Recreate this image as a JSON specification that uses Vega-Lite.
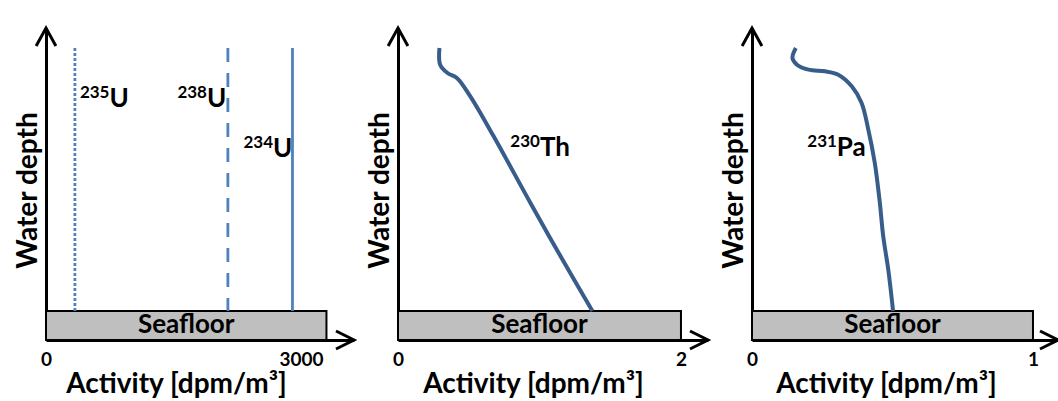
{
  "$schema": "https://vega.github.io/schema/vega-lite/v6.json",
  "padding": {"left": 14, "top": 22, "right": 0, "bottom": 0},
  "background": "white",
  "bounds": "flush",
  "spacing": 44,
  "config": {
    "view": {"stroke": null},
    "font": "Lato",
    "axis": {
      "domainColor": "black", "domainWidth": 3, "ticks": false, "grid": false,
      "labelFont": "Lato", "labelFontSize": 19, "labelFontWeight": "bold", "labelColor": "black",
      "titleFont": "Lato", "titleFontSize": 28, "titleFontWeight": "bold", "titleColor": "black"
    }
  },
  "hconcat": [
    {
      "width": 308, "height": 312,
      "layer": [
        {
          "data": {"values": [{"x0": 0, "x1": 3300, "d0": 4.0, "d1": 4.441}]},
          "mark": {"type": "rect", "fill": "#bfbfbf", "stroke": "black", "strokeWidth": 2},
          "encoding": {
            "x": {"field": "x0", "type": "quantitative", "scale": {"domain": [0, 3624], "nice": false, "zero": false},
                  "axis": {"title": "Activity [dpm/m³]", "values": [0, 3000], "format": "d", "labelPadding": 10, "labelOverlap": false, "labelFlush": false, "titleX": 130, "titleY": 52, "titleAlign": "center", "titleBaseline": "alphabetic"}},
            "x2": {"field": "x1"},
            "y": {"field": "d0", "type": "quantitative", "scale": {"domain": [-0.304, 4.441], "reverse": true, "nice": false, "zero": false},
                  "axis": {"title": "Water depth", "labels": false, "titleX": -18, "titleY": 162, "titleAngle": -90, "titleAlign": "center", "titleBaseline": "middle"}},
            "y2": {"field": "d1"}
          }
        },
        {
          "data": {"values": [{"t": "Seafloor", "x": 1650, "d": 4.22}]},
          "mark": {"type": "text", "fontSize": 26, "fontWeight": "bold", "baseline": "middle", "align": "center", "color": "black"},
          "encoding": {"x": {"field": "x", "type": "quantitative"}, "y": {"field": "d", "type": "quantitative"}, "text": {"field": "t"}}
        },
        {
          "data": {"values": [
            {"iso": "235U", "x": 340, "d0": 0, "d1": 4},
            {"iso": "238U", "x": 2140, "d0": 0, "d1": 4},
            {"iso": "234U", "x": 2900, "d0": 0, "d1": 4}
          ]},
          "mark": {"type": "rule", "color": "#4F81BD", "strokeWidth": 2.8},
          "encoding": {
            "x": {"field": "x", "type": "quantitative"},
            "y": {"field": "d0", "type": "quantitative"},
            "y2": {"field": "d1"},
            "strokeDash": {"field": "iso", "type": "nominal", "scale": {"domain": ["235U", "238U", "234U"], "range": [[3, 2], [14, 11], [1, 0]]}, "legend": null}
          }
        },
        {
          "data": {"values": [
            {"sup": "235", "el": "U", "x": 747, "d": 0.897},
            {"sup": "238", "el": "U", "x": 1894, "d": 0.897},
            {"sup": "234", "el": "U", "x": 2671, "d": 1.658}
          ]},
          "layer": [
            {"mark": {"type": "text", "fontSize": 17, "fontWeight": "bold", "align": "right", "baseline": "alphabetic", "dy": -9, "color": "black"},
             "encoding": {"x": {"field": "x", "type": "quantitative"}, "y": {"field": "d", "type": "quantitative"}, "text": {"field": "sup"}}},
            {"mark": {"type": "text", "fontSize": 26, "fontWeight": "bold", "align": "left", "baseline": "alphabetic", "color": "black"},
             "encoding": {"x": {"field": "x", "type": "quantitative"}, "y": {"field": "d", "type": "quantitative"}, "text": {"field": "el"}}}
          ]
        },
        {
          "data": {"values": [{"x": 3624, "d": 4.441}]},
          "mark": {"type": "point", "shape": "M-1,-0.5L0,0L-1,0.5", "size": 1296, "filled": false, "stroke": "black", "strokeWidth": 3, "opacity": 1, "strokeJoin": "miter"},
          "encoding": {"x": {"field": "x", "type": "quantitative"}, "y": {"field": "d", "type": "quantitative"}}
        },
        {
          "data": {"values": [{"x": 0, "d": -0.304}]},
          "mark": {"type": "point", "shape": "M-0.55,1L0,0L0.55,1", "size": 1296, "filled": false, "stroke": "black", "strokeWidth": 3, "opacity": 1, "strokeJoin": "miter"},
          "encoding": {"x": {"field": "x", "type": "quantitative"}, "y": {"field": "d", "type": "quantitative"}}
        }
      ]
    },
    {
      "width": 310, "height": 312,
      "layer": [
        {
          "data": {"values": [{"x0": 0, "x1": 2, "d0": 4.0, "d1": 4.441}]},
          "mark": {"type": "rect", "fill": "#bfbfbf", "stroke": "black", "strokeWidth": 2},
          "encoding": {
            "x": {"field": "x0", "type": "quantitative", "scale": {"domain": [0, 2.191], "nice": false, "zero": false},
                  "axis": {"title": "Activity [dpm/m³]", "values": [0, 2], "format": "d", "labelPadding": 10, "labelOverlap": false, "labelFlush": false, "titleX": 135, "titleY": 52, "titleAlign": "center", "titleBaseline": "alphabetic"}},
            "x2": {"field": "x1"},
            "y": {"field": "d0", "type": "quantitative", "scale": {"domain": [-0.304, 4.441], "reverse": true, "nice": false, "zero": false},
                  "axis": {"title": "Water depth", "labels": false, "titleX": -18, "titleY": 162, "titleAngle": -90, "titleAlign": "center", "titleBaseline": "middle"}},
            "y2": {"field": "d1"}
          }
        },
        {
          "data": {"values": [{"t": "Seafloor", "x": 1.0, "d": 4.22}]},
          "mark": {"type": "text", "fontSize": 26, "fontWeight": "bold", "baseline": "middle", "align": "center", "color": "black"},
          "encoding": {"x": {"field": "x", "type": "quantitative"}, "y": {"field": "d", "type": "quantitative"}, "text": {"field": "t"}}
        },
        {
          "data": {"values": [
            {"o": 1, "x": 0.293, "d": 0},
            {"o": 2, "x": 0.298, "d": 0.254},
            {"o": 3, "x": 0.35, "d": 0.38},
            {"o": 4, "x": 0.416, "d": 0.456},
            {"o": 5, "x": 0.511, "d": 0.735},
            {"o": 6, "x": 0.676, "d": 1.343},
            {"o": 7, "x": 0.936, "d": 2.357},
            {"o": 8, "x": 1.149, "d": 3.168},
            {"o": 9, "x": 1.374, "d": 4.0}
          ]},
          "mark": {"type": "line", "color": "#385D8A", "strokeWidth": 4, "interpolate": "catmull-rom"},
          "encoding": {"x": {"field": "x", "type": "quantitative"}, "y": {"field": "d", "type": "quantitative"}, "order": {"field": "o"}}
        },
        {
          "data": {"values": [{"sup": "230", "el": "Th", "x": 1.003, "d": 1.643}]},
          "layer": [
            {"mark": {"type": "text", "fontSize": 17, "fontWeight": "bold", "align": "right", "baseline": "alphabetic", "dy": -9, "color": "black"},
             "encoding": {"x": {"field": "x", "type": "quantitative"}, "y": {"field": "d", "type": "quantitative"}, "text": {"field": "sup"}}},
            {"mark": {"type": "text", "fontSize": 26, "fontWeight": "bold", "align": "left", "baseline": "alphabetic", "color": "black"},
             "encoding": {"x": {"field": "x", "type": "quantitative"}, "y": {"field": "d", "type": "quantitative"}, "text": {"field": "el"}}}
          ]
        },
        {
          "data": {"values": [{"x": 2.191, "d": 4.441}]},
          "mark": {"type": "point", "shape": "M-1,-0.5L0,0L-1,0.5", "size": 1296, "filled": false, "stroke": "black", "strokeWidth": 3, "opacity": 1, "strokeJoin": "miter"},
          "encoding": {"x": {"field": "x", "type": "quantitative"}, "y": {"field": "d", "type": "quantitative"}}
        },
        {
          "data": {"values": [{"x": 0, "d": -0.304}]},
          "mark": {"type": "point", "shape": "M-0.55,1L0,0L0.55,1", "size": 1296, "filled": false, "stroke": "black", "strokeWidth": 3, "opacity": 1, "strokeJoin": "miter"},
          "encoding": {"x": {"field": "x", "type": "quantitative"}, "y": {"field": "d", "type": "quantitative"}}
        }
      ]
    },
    {
      "width": 306, "height": 312,
      "layer": [
        {
          "data": {"values": [{"x0": 0, "x1": 1, "d0": 4.0, "d1": 4.441}]},
          "mark": {"type": "rect", "fill": "#bfbfbf", "stroke": "black", "strokeWidth": 2},
          "encoding": {
            "x": {"field": "x0", "type": "quantitative", "scale": {"domain": [0, 1.089], "nice": false, "zero": false},
                  "axis": {"title": "Activity [dpm/m³]", "values": [0, 1], "format": "d", "labelPadding": 10, "labelOverlap": false, "labelFlush": false, "titleX": 134, "titleY": 52, "titleAlign": "center", "titleBaseline": "alphabetic"}},
            "x2": {"field": "x1"},
            "y": {"field": "d0", "type": "quantitative", "scale": {"domain": [-0.304, 4.441], "reverse": true, "nice": false, "zero": false},
                  "axis": {"title": "Water depth", "labels": false, "titleX": -18, "titleY": 162, "titleAngle": -90, "titleAlign": "center", "titleBaseline": "middle"}},
            "y2": {"field": "d1"}
          }
        },
        {
          "data": {"values": [{"t": "Seafloor", "x": 0.5, "d": 4.22}]},
          "mark": {"type": "text", "fontSize": 26, "fontWeight": "bold", "baseline": "middle", "align": "center", "color": "black"},
          "encoding": {"x": {"field": "x", "type": "quantitative"}, "y": {"field": "d", "type": "quantitative"}, "text": {"field": "t"}}
        },
        {
          "data": {"values": [
            {"o": 1, "x": 0.156, "d": 0},
            {"o": 2, "x": 0.144, "d": 0.152},
            {"o": 3, "x": 0.16, "d": 0.254},
            {"o": 4, "x": 0.201, "d": 0.33},
            {"o": 5, "x": 0.26, "d": 0.354},
            {"o": 6, "x": 0.307, "d": 0.406},
            {"o": 7, "x": 0.355, "d": 0.583},
            {"o": 8, "x": 0.39, "d": 0.837},
            {"o": 9, "x": 0.414, "d": 1.243},
            {"o": 10, "x": 0.437, "d": 1.749},
            {"o": 11, "x": 0.455, "d": 2.357},
            {"o": 12, "x": 0.467, "d": 2.864},
            {"o": 13, "x": 0.485, "d": 3.372},
            {"o": 14, "x": 0.502, "d": 4.0}
          ]},
          "mark": {"type": "line", "color": "#385D8A", "strokeWidth": 4, "interpolate": "catmull-rom"},
          "encoding": {"x": {"field": "x", "type": "quantitative"}, "y": {"field": "d", "type": "quantitative"}, "order": {"field": "o"}}
        },
        {
          "data": {"values": [{"sup": "231", "el": "Pa", "x": 0.302, "d": 1.643}]},
          "layer": [
            {"mark": {"type": "text", "fontSize": 17, "fontWeight": "bold", "align": "right", "baseline": "alphabetic", "dy": -9, "color": "black"},
             "encoding": {"x": {"field": "x", "type": "quantitative"}, "y": {"field": "d", "type": "quantitative"}, "text": {"field": "sup"}}},
            {"mark": {"type": "text", "fontSize": 26, "fontWeight": "bold", "align": "left", "baseline": "alphabetic", "color": "black"},
             "encoding": {"x": {"field": "x", "type": "quantitative"}, "y": {"field": "d", "type": "quantitative"}, "text": {"field": "el"}}}
          ]
        },
        {
          "data": {"values": [{"x": 1.089, "d": 4.441}]},
          "mark": {"type": "point", "shape": "M-1,-0.5L0,0L-1,0.5", "size": 1296, "filled": false, "stroke": "black", "strokeWidth": 3, "opacity": 1, "strokeJoin": "miter"},
          "encoding": {"x": {"field": "x", "type": "quantitative"}, "y": {"field": "d", "type": "quantitative"}}
        },
        {
          "data": {"values": [{"x": 0, "d": -0.304}]},
          "mark": {"type": "point", "shape": "M-0.55,1L0,0L0.55,1", "size": 1296, "filled": false, "stroke": "black", "strokeWidth": 3, "opacity": 1, "strokeJoin": "miter"},
          "encoding": {"x": {"field": "x", "type": "quantitative"}, "y": {"field": "d", "type": "quantitative"}}
        }
      ]
    }
  ]
}
